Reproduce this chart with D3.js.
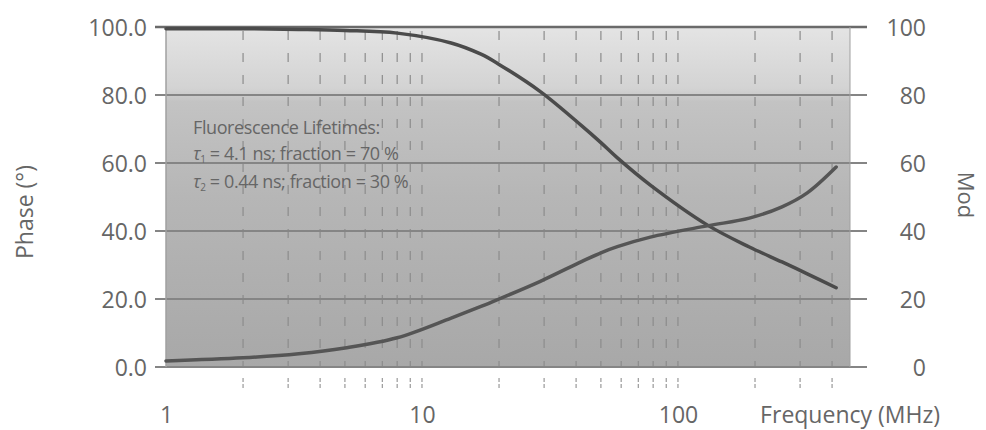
<!DOCTYPE html>
<html>
<head>
<meta charset="utf-8">
<script src="https://cdn.jsdelivr.net/npm/d3@7"></script>
<style>
  body { margin: 0; background: #fff; }
  text { font-family: "Open Sans", sans-serif; fill: #666; }
</style>
</head>
<body>
<svg id="chart"></svg>
<script>
// values
var freqMHz     = [1, 2, 3.3, 5, 8, 13, 17, 20, 29, 42, 50, 58, 78, 130, 190, 255, 320, 415];
var modValues   = [99.5, 99.5, 99.3, 99.0, 98.2, 95.3, 92.0, 89.0, 81.0, 71.0, 66.0, 61.5, 53.5, 41.8, 35.3, 30.9, 27.4, 23.3];
var phaseValues = [1.8, 2.7, 3.9, 5.6, 8.6, 14.4, 17.8, 20.0, 25.2, 31.0, 33.6, 35.4, 38.2, 41.5, 43.8, 47.1, 51.2, 58.8];

var xTickLabels = [1, 10, 100];
var xMinorTicks = [2, 3, 4, 5, 6, 7, 8, 9, 10, 20, 30, 40, 50, 60, 70, 80, 90, 100, 200, 300, 400];
var yTicks = [0, 20, 40, 60, 80, 100];

var screen = {width: 986, height: 430};
var margins = {left: 166, right: 136, top: 27, bottom: 63};
var graph = {
    width: screen.width - margins.left - margins.right,
    height: screen.height - margins.top - margins.bottom
};

var svg = d3.select("#chart")
    .attr("width", screen.width)
    .attr("height", screen.height);

var xScale = d3.scaleLog()
    .domain([1, 470])
    .range([0, graph.width]);

var yScale = d3.scaleLinear()
    .domain([0, 100])
    .range([graph.height, 0]);

// background gradient
var grad = svg.append("defs").append("linearGradient")
    .attr("id", "bg").attr("x1", 0).attr("y1", 0).attr("x2", 0).attr("y2", 1);
grad.append("stop").attr("offset", "0%").attr("stop-color", "#e4e4e4");
grad.append("stop").attr("offset", "18%").attr("stop-color", "#d3d3d3");
grad.append("stop").attr("offset", "22%").attr("stop-color", "#c3c3c3");
grad.append("stop").attr("offset", "50%").attr("stop-color", "#b6b6b6");
grad.append("stop").attr("offset", "100%").attr("stop-color", "#a8a8a8");

var target = svg.append("g")
    .attr("transform", "translate(" + margins.left + "," + margins.top + ")");

target.append("rect")
    .attr("width", graph.width)
    .attr("height", graph.height)
    .attr("fill", "url(#bg)");

// dashed vertical grid
target.append("g").selectAll("line")
    .data(xMinorTicks)
    .enter().append("line")
    .attr("x1", function(d) { return xScale(d); })
    .attr("x2", function(d) { return xScale(d); })
    .attr("y1", 4)
    .attr("y2", graph.height)
    .attr("stroke", "#8c8c8c")
    .attr("stroke-width", 1.2)
    .attr("stroke-dasharray", "9,13");

// dashed minor ticks below the axis
target.append("g").selectAll("line")
    .data(xMinorTicks)
    .enter().append("line")
    .attr("x1", function(d) { return xScale(d); })
    .attr("x2", function(d) { return xScale(d); })
    .attr("y1", graph.height + 11)
    .attr("y2", graph.height + 23)
    .attr("stroke", "#999")
    .attr("stroke-width", 1.2)
    .attr("stroke-dasharray", "4,2");

// horizontal grid lines, sticking out on both sides
target.append("g").selectAll("line")
    .data(yTicks)
    .enter().append("line")
    .attr("x1", -11)
    .attr("x2", graph.width + 17)
    .attr("y1", function(d) { return yScale(d); })
    .attr("y2", function(d) { return yScale(d); })
    .attr("stroke", function(d) { return d == 100 ? "#6a6a6a" : "#858585"; })
    .attr("stroke-width", function(d) { return d == 100 ? 2.5 : 2; });

// side borders
target.append("line")
    .attr("x1", 0).attr("x2", 0).attr("y1", 0).attr("y2", graph.height)
    .attr("stroke", "#a0a0a0").attr("stroke-width", 1.5);
target.append("line")
    .attr("x1", graph.width).attr("x2", graph.width).attr("y1", 0).attr("y2", graph.height)
    .attr("stroke", "#a0a0a0").attr("stroke-width", 1);

// curves
var lineGenerator = function(values) {
    return d3.line()
        .x(function(d, i) { return xScale(freqMHz[i]); })
        .y(function(d) { return yScale(d); })
        .curve(d3.curveCatmullRom.alpha(0.5))(values);
};

target.append("path")
    .attr("d", lineGenerator(modValues))
    .attr("fill", "none")
    .attr("stroke", "#4b4b4b")
    .attr("stroke-width", 3.5)
    .attr("stroke-linecap", "round");

target.append("path")
    .attr("d", lineGenerator(phaseValues))
    .attr("fill", "none")
    .attr("stroke", "#555")
    .attr("stroke-width", 3.5)
    .attr("stroke-linecap", "round");

// axes labels
var leftAxis = d3.axisLeft(yScale)
    .tickValues(yTicks)
    .tickFormat(d3.format(".1f"))
    .tickSize(0)
    .tickPadding(19);
var la = target.append("g").call(leftAxis);
la.select(".domain").remove();
la.selectAll("text").style("font-size", "23px").attr("fill", "#666").attr("dy", "0.36em");

var rightAxis = d3.axisRight(yScale)
    .tickValues(yTicks)
    .tickSize(0)
    .tickPadding(0);
var ra = target.append("g")
    .attr("transform", "translate(" + (graph.width + 76) + ",0)")
    .call(rightAxis);
ra.select(".domain").remove();
ra.selectAll("text").style("font-size", "23px").attr("fill", "#666")
    .attr("text-anchor", "end").attr("dy", "0.36em");

var bottomAxis = d3.axisBottom(xScale)
    .tickValues(xTickLabels)
    .tickFormat(d3.format("d"))
    .tickSize(0)
    .tickPadding(0);
var ba = target.append("g")
    .attr("transform", "translate(0," + (graph.height + 56) + ")")
    .call(bottomAxis);
ba.select(".domain").remove();
ba.selectAll("text").style("font-size", "23px").attr("fill", "#666").attr("dy", 0);

var labels = svg.append("g");
labels.append("text")
    .text("Frequency (MHz)")
    .attr("x", 940).attr("y", 423)
    .attr("text-anchor", "end")
    .style("font-size", "23px");

labels.append("text")
    .text("Phase (°)")
    .attr("transform", "translate(33,212) rotate(-90)")
    .attr("text-anchor", "middle")
    .style("font-size", "23px");

labels.append("text")
    .text("Mod")
    .attr("transform", "translate(958,195) rotate(90)")
    .attr("text-anchor", "middle")
    .style("font-size", "22px");

// annotation
var note = target.append("g").attr("transform", "translate(27,0)");
note.append("text")
    .text("Fluorescence Lifetimes:")
    .attr("y", 107)
    .style("font-size", "18px").style("letter-spacing", "-0.4px").attr("fill", "#555");

var lines = [
    {sub: "1", rest: " = 4.1 ns; fraction = 70 %", y: 133},
    {sub: "2", rest: " = 0.44 ns; fraction = 30 %", y: 161}
];
lines.forEach(function(l) {
    var t = note.append("text").attr("y", l.y)
        .style("font-size", "18px").style("letter-spacing", "-0.4px").attr("fill", "#555");
    t.append("tspan").text("τ").style("font-style", "italic");
    t.append("tspan").text(l.sub).attr("dy", 3).style("font-size", "10px");
    t.append("tspan").text(l.rest).attr("dy", -3);
});
</script>
</body>
</html>
